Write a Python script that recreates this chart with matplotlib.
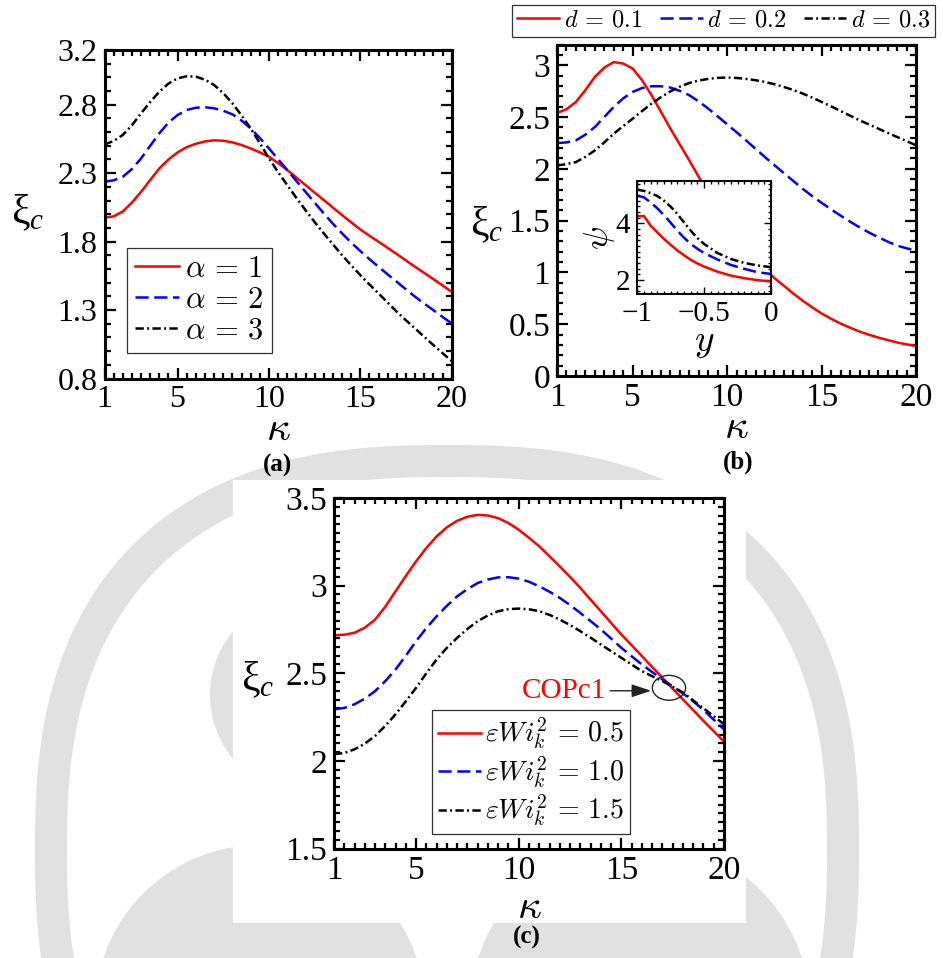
import numpy as np
import matplotlib
matplotlib.use("Agg")
import matplotlib.pyplot as plt
from matplotlib.ticker import MultipleLocator, FixedLocator, FuncFormatter
from matplotlib.patches import PathPatch, Circle, Rectangle, Ellipse
from matplotlib.path import Path
from matplotlib.font_manager import FontProperties

plt.rcParams["font.family"] = "Liberation Serif"
plt.rcParams["mathtext.fontset"] = "custom"
plt.rcParams["mathtext.rm"] = "Liberation Serif"
plt.rcParams["mathtext.it"] = "Liberation Serif:italic"
plt.rcParams["lines.scale_dashes"] = False

# ---------------- data ----------------
kappa = [1, 1.5, 2, 2.5, 3, 3.5, 4, 4.5, 5, 5.5, 6, 6.5, 7, 7.5, 8, 8.5, 9, 9.5, 10,
         10.5, 11, 11.5, 12, 12.5, 13, 13.5, 14, 14.5, 15, 15.5, 16, 16.5, 17, 17.5,
         18, 18.5, 19, 19.5, 20]

# (a) effect of alpha
xi_alpha1 = [1.974, 1.985, 2.02, 2.085, 2.164, 2.25, 2.335, 2.40, 2.452, 2.49, 2.515,
             2.532, 2.54, 2.537, 2.525, 2.506, 2.481, 2.452, 2.42, 2.374, 2.323, 2.268,
             2.213, 2.158, 2.104, 2.049, 1.994, 1.941, 1.889, 1.843, 1.799, 1.754,
             1.709, 1.662, 1.616, 1.571, 1.526, 1.48, 1.433]
xi_alpha2 = [2.238, 2.248, 2.274, 2.33, 2.408, 2.50, 2.591, 2.67, 2.725, 2.762, 2.778,
             2.782, 2.774, 2.756, 2.73, 2.685, 2.627, 2.557, 2.481, 2.402, 2.323, 2.243,
             2.164, 2.085, 2.006, 1.931, 1.86, 1.793, 1.731, 1.672, 1.616, 1.56, 1.506,
             1.451, 1.397, 1.347, 1.299, 1.25, 1.202]
xi_alpha3 = [2.51, 2.535, 2.579, 2.65, 2.737, 2.82, 2.895, 2.955, 2.993, 3.008, 3.005,
             2.983, 2.944, 2.885, 2.81, 2.722, 2.627, 2.52, 2.408, 2.308, 2.213, 2.12,
             2.03, 1.943, 1.86, 1.78, 1.701, 1.627, 1.555, 1.487, 1.421, 1.354, 1.287,
             1.225, 1.165, 1.104, 1.044, 0.985, 0.927]

# (b) effect of d
xi_d1 = [2.539, 2.575, 2.645, 2.76, 2.887, 2.977, 3.03, 3.016, 2.968, 2.855, 2.71,
         2.55, 2.387, 2.233, 2.08, 1.92, 1.77, 1.62, 1.48, 1.36, 1.25, 1.14, 1.03,
         0.945, 0.871, 0.795, 0.726, 0.662, 0.603, 0.552, 0.506, 0.466, 0.429, 0.398,
         0.371, 0.346, 0.323, 0.305, 0.29]
xi_d2 = [2.248, 2.255, 2.274, 2.33, 2.403, 2.50, 2.597, 2.68, 2.742, 2.78, 2.797,
         2.797, 2.784, 2.752, 2.71, 2.65, 2.581, 2.506, 2.429, 2.352, 2.274, 2.193,
         2.113, 2.035, 1.958, 1.882, 1.806, 1.736, 1.671, 1.608, 1.548, 1.49, 1.435,
         1.385, 1.339, 1.296, 1.258, 1.232, 1.21]
xi_d3 = [2.032, 2.045, 2.065, 2.115, 2.177, 2.255, 2.339, 2.412, 2.484, 2.558, 2.629,
         2.692, 2.748, 2.793, 2.829, 2.852, 2.868, 2.878, 2.881, 2.877, 2.868, 2.855,
         2.839, 2.816, 2.79, 2.76, 2.726, 2.687, 2.645, 2.602, 2.558, 2.513, 2.468,
         2.428, 2.387, 2.346, 2.306, 2.266, 2.226]

# inset: base profile psi(y)
y_in = [-1.0, -0.95, -0.9, -0.85, -0.8, -0.75, -0.7, -0.65, -0.6, -0.55, -0.5, -0.4,
        -0.3, -0.2, -0.1, 0.0]
psi_d1 = [4.25, 4.26, 3.92, 3.68, 3.45, 3.24, 3.04, 2.87, 2.71, 2.58, 2.47, 2.29,
          2.15, 2.06, 1.99, 1.94]
psi_d2 = [4.98, 4.92, 4.74, 4.53, 4.29, 4.02, 3.74, 3.49, 3.27, 3.10, 2.95, 2.72,
          2.53, 2.39, 2.27, 2.21]
psi_d3 = [5.19, 5.15, 5.07, 4.97, 4.80, 4.59, 4.33, 4.03, 3.74, 3.48, 3.27, 2.95,
          2.74, 2.60, 2.51, 2.45]

# (c) effect of eps*Wi_k^2
xi_w05 = [2.717, 2.72, 2.731, 2.76, 2.806, 2.88, 2.968, 3.055, 3.139, 3.215, 3.281,
          3.333, 3.37, 3.393, 3.404, 3.40, 3.385, 3.357, 3.319, 3.273, 3.224, 3.168,
          3.11, 3.05, 2.987, 2.92, 2.854, 2.787, 2.721, 2.66, 2.598, 2.536, 2.474,
          2.412, 2.351, 2.29, 2.228, 2.169, 2.11]
xi_w10 = [2.294, 2.302, 2.323, 2.355, 2.398, 2.455, 2.522, 2.60, 2.683, 2.758, 2.825,
          2.885, 2.939, 2.98, 3.015, 3.035, 3.047, 3.048, 3.04, 3.022, 2.996, 2.965,
          2.93, 2.889, 2.844, 2.798, 2.75, 2.698, 2.645, 2.597, 2.55, 2.507, 2.465,
          2.425, 2.385, 2.34, 2.29, 2.235, 2.18]
xi_w15 = [2.038, 2.045, 2.066, 2.098, 2.142, 2.20, 2.266, 2.34, 2.417, 2.50, 2.579,
          2.645, 2.702, 2.753, 2.797, 2.83, 2.854, 2.866, 2.869, 2.865, 2.854, 2.833,
          2.806, 2.775, 2.74, 2.703, 2.664, 2.626, 2.588, 2.55, 2.512, 2.483, 2.455,
          2.423, 2.39, 2.345, 2.30, 2.255, 2.209]

labels_a = [r"$\alpha\,=\,1$", r"$\alpha\,=\,2$", r"$\alpha\,=\,3$"]
labels_b = [r"$d\,=\,0.1$", r"$d\,=\,0.2$", r"$d\,=\,0.3$"]
labels_c = [r"$\varepsilon W i_k^2\,=\,0.5$", r"$\varepsilon W i_k^2\,=\,1.0$",
            r"$\varepsilon W i_k^2\,=\,1.5$"]

xticks = [1, 5, 10, 15, 20]
yticks_a = [0.8, 1.3, 1.8, 2.3, 2.8, 3.2]
yticks_b = [0, 0.5, 1, 1.5, 2, 2.5, 3]
yticks_c = [1.5, 2, 2.5, 3, 3.5]

# ---------------- styles ----------------
RED, BLUE, BLACK = "#ff0000", "#0000ff", "#000000"
LW = 1.8
styles = [
    dict(color=RED, lw=LW, ls="-"),
    dict(color=BLUE, lw=LW, ls=(0, (9.5, 4.0))),
    dict(color=BLACK, lw=LW, ls=(0, (6.0, 2.4, 1.4, 2.4))),
]

W, H = 943, 958
fig = plt.figure(figsize=(W / 100, H / 100), dpi=100)


def fx(px):
    return px / W


def fy(py):
    return 1 - py / H


# ---------------- background seal ----------------
bg = fig.add_axes([0, 0, 1, 1], zorder=-10)
bg.set_xlim(0, W)
bg.set_ylim(H, 0)
bg.axis("off")
GREY = "#e1e1e1"


def superellipse(cx, cy, a, b, n=2.5, num=400):
    t = np.linspace(0, 2 * np.pi, num)
    c, s = np.cos(t), np.sin(t)
    x = cx + a * np.sign(c) * np.abs(c) ** (2 / n)
    y = cy + b * np.sign(s) * np.abs(s) ** (2 / n)
    return np.column_stack([x, y])


outer = superellipse(447, 850, 412, 405)
inner = superellipse(447, 850, 380, 373)[::-1]
verts = np.vstack([outer, inner])
codes = ([Path.MOVETO] + [Path.LINETO] * (len(outer) - 2) + [Path.CLOSEPOLY]) * 2
bg.add_patch(PathPatch(Path(verts, codes), fc=GREY, ec="none", zorder=1))
for (cx, cy, r) in [(310, 695, 100), (260, 1010, 165), (640, 1010, 170)]:
    bg.add_patch(Circle((cx, cy), r, fc=GREY, ec="none", zorder=2))
# white panels behind the plots
bg.add_patch(Rectangle((0, 0), W, 445, fc="white", ec="none", zorder=3))
bg.add_patch(Rectangle((233, 480), 513, 443, fc="white", ec="none", zorder=3))


def fmt(v, pos):
    s = f"{v:g}"
    return s.replace("-", "\u2212")


def style_axes(ax, xt, yt, xminor, yminor, fs, maj=8, mnr=4, sw=2.2):
    ax.xaxis.set_major_locator(FixedLocator(xt))
    ax.yaxis.set_major_locator(FixedLocator(yt))
    ax.xaxis.set_minor_locator(MultipleLocator(xminor))
    ax.yaxis.set_minor_locator(MultipleLocator(yminor))
    ax.xaxis.set_major_formatter(FuncFormatter(fmt))
    ax.yaxis.set_major_formatter(FuncFormatter(fmt))
    ax.tick_params(which="both", direction="in", top=True, right=True,
                   width=1.6, labelsize=fs, pad=5)
    ax.tick_params(which="major", length=maj)
    ax.tick_params(which="minor", length=mnr)
    for sp in ax.spines.values():
        sp.set_linewidth(sw)


def label_axes(ax, xlx, xly, ylx, yly, kfs=30, xfs=30):
    ax.set_xlabel(r"$\kappa$", fontsize=kfs, math_fontfamily="cm")
    ax.xaxis.set_label_coords(xlx, xly)
    ax.xaxis.label.set_va("center")
    ax.set_ylabel(r"$\mathrm{\xi}_c$", fontsize=xfs, rotation=0)
    ax.yaxis.set_label_coords(ylx, yly)
    ax.yaxis.label.set_va("center")
    ax.yaxis.label.set_ha("center")


def legend_props(size):
    return FontProperties(family="Liberation Serif", size=size, math_fontfamily="cm")


# ---------------- panel (a) ----------------
axa = fig.add_axes([fx(104.5), fy(378.5), 347.2 / W, 328.5 / H])
for ys, st, lb in zip([xi_alpha1, xi_alpha2, xi_alpha3], styles, labels_a):
    axa.plot(kappa, ys, label=lb, **st)
axa.set_xlim(1, 20)
axa.set_ylim(0.8, 3.2)
style_axes(axa, xticks, yticks_a, 0.5, 0.1, 23)
label_axes(axa, 0.5, -0.157, -0.22, 0.504)
leg = axa.legend(loc="lower left", bbox_to_anchor=(0.065, 0.078), borderaxespad=0,
                 prop=legend_props(22), handlelength=1.45, handletextpad=0.2,
                 labelspacing=0.05, borderpad=0.25, fancybox=False, framealpha=1,
                 edgecolor="#333333")
leg.get_frame().set_linewidth(0.9)

# ---------------- panel (b) ----------------
axb = fig.add_axes([fx(557), fy(376), 359.3 / W, 331.5 / H])
lines_b = []
for ys, st, lb in zip([xi_d1, xi_d2, xi_d3], styles, labels_b):
    ln, = axb.plot(kappa, ys, label=lb, **st)
    lines_b.append(ln)
axb.set_xlim(1, 20)
axb.set_ylim(0, 3.2)
style_axes(axb, xticks, yticks_b, 0.5, 0.1, 24)
label_axes(axb, 0.5, -0.157, -0.195, 0.455)
legb = fig.legend(handles=lines_b, loc="upper left", bbox_to_anchor=(fx(512), fy(5)),
                  ncol=3, prop=legend_props(17.5), handlelength=1.75, handletextpad=0.2,
                  columnspacing=0.72, borderpad=0.2, borderaxespad=0, fancybox=False,
                  framealpha=1, edgecolor="#333333")
legb.get_frame().set_linewidth(0.9)

# inset of panel (b)
axi = fig.add_axes([fx(637.3), fy(294), 133.7 / W, 113 / H])
for ys, st in zip([psi_d1, psi_d2, psi_d3], styles):
    axi.plot(y_in, ys, **st)
axi.set_xlim(-1, 0)
axi.set_ylim(1.5, 5.5)
style_axes(axi, [-1, -0.5, 0], [2, 4], 0.05, 0.2, 21, maj=5, mnr=2.5, sw=1.4)
axi.tick_params(which="both", width=1.0)
axi.set_xlabel(r"$y$", fontsize=27, math_fontfamily="cm")
axi.xaxis.set_label_coords(0.5, -0.43)
axi.xaxis.label.set_va("center")
axi.set_ylabel(r"$\psi$", fontsize=25, math_fontfamily="cm", rotation=90)
axi.yaxis.set_label_coords(-0.28, 0.5)
axi.yaxis.label.set_va("center")

# ---------------- panel (c) ----------------
axc = fig.add_axes([fx(334), fy(848.5), 390 / W, 350.5 / H])
for ys, st, lb in zip([xi_w05, xi_w10, xi_w15], styles, labels_c):
    axc.plot(kappa, ys, label=lb, **st)
axc.set_xlim(1, 20)
axc.set_ylim(1.5, 3.5)
style_axes(axc, xticks, yticks_c, 0.5, 0.05, 24)
label_axes(axc, 0.5, -0.17, -0.195, 0.481)
legc = axc.legend(loc="lower left", bbox_to_anchor=(0.251, 0.04), borderaxespad=0,
                  prop=legend_props(20), handlelength=1.55, handletextpad=0.15,
                  labelspacing=0.1, borderpad=0.22, fancybox=False, framealpha=1,
                  edgecolor="#333333")
legc.get_frame().set_linewidth(0.9)

# crossing point marker
axc.add_patch(Ellipse((17.32, 2.417), 1.62, 0.142, fill=False, ec="#222222", lw=1.0,
                      zorder=5))
axc.annotate("", xy=(16.45, 2.40), xytext=(14.45, 2.40),
             arrowprops=dict(arrowstyle="-|>,head_length=0.6,head_width=0.2",
                             color="#222222", lw=1.0, mutation_scale=20,
                             shrinkA=0, shrinkB=0))
axc.text(14.25, 2.40, "COPc1", color=RED, fontsize=21, ha="right", va="center",
         zorder=6)

# panel tags
fig.text(fx(278), fy(465), "(a)", fontsize=18, fontweight="bold", ha="center", va="center")
fig.text(fx(738), fy(462), "(b)", fontsize=18, fontweight="bold", ha="center", va="center")
fig.text(fx(527), fy(937), "(c)", fontsize=18, fontweight="bold", ha="center", va="center")

fig.savefig("out.png", dpi=100)
